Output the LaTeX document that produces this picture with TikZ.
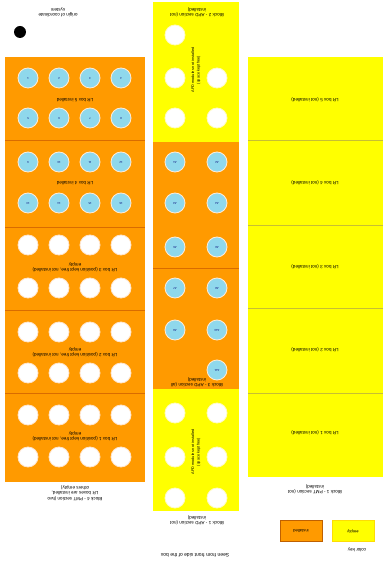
\documentclass[tikz,border=0pt]{standalone}
\usepackage{fontspec}
\setmainfont{Liberation Sans}
\definecolor{boxorange}{HTML}{FF9A00}
\definecolor{boxyellow}{HTML}{FFFF00}
\definecolor{apdblue}{HTML}{8FD8EC}

\tikzset{
  flip/.style={rotate=180, font=\fontsize{4.6}{5.4}\selectfont, align=center, inner sep=0pt},
  side/.style={rotate=90, font=\fontsize{3.8}{5.5}\selectfont, align=center, inner sep=0pt},
  hole/.style={circle, fill=white, draw=yellow!25!white, line width=0.8pt, minimum size=20pt, inner sep=0pt},
  apd/.style={hole, fill=apdblue, draw=orange!15!white, rotate=180, text=blue!45!black, font=\fontsize{2.8}{3}\selectfont},
  split/.style={line width=0.3pt},
  keybox/.style={minimum width=42pt, minimum height=21pt, rotate=180, font=\fontsize{4.2}{5}\selectfont, inner sep=0pt}
}

\begin{document}
\begin{tikzpicture}[x=1pt, y=-1pt]
\useasboundingbox (0,0) rectangle (385,561);

% origin
\fill (20,32) circle (6);
\node[flip] (origin) at (58,12) {origin of coordinate\\system};

% left PMT block
\fill[boxorange] (5,57) rectangle (145,482);
\foreach \y in {140,227,310,393}
  \draw[split, orange!85!black] (5,\y) -- (145,\y);
\foreach \y [count=\r] in {78,118,162,203}
  \foreach \x [count=\c] in {28,59,90,121}
    \node[apd] (l\r\c) at (\x,\y) {\pgfmathparse{int(4*(\r-1)+\c)}\pgfmathresult};
\foreach \y [count=\r] in {245,288,332,373,415,457}
  \foreach \x [count=\c] in {28,59,90,121}
    \node[hole, draw=orange!20!white] (w\r\c) at (\x,\y) {};
\node[flip] (lrfive) at (75,100) {LR box 5 installed};
\node[flip] (lrfour) at (75,183) {LR box 4 installed};
\node[flip] (lrthree) at (75,267) {LR box 3 (position kept free, not installed)\\empty};
\node[flip] (lrtwo) at (75,352) {LR box 2 (position kept free, not installed)\\empty};
\node[flip] (lrone) at (75,436) {LR box 1 (position kept free, not installed)\\empty};
\node[flip] (blockfour) at (75,493) {Block 4 - PMT section (two\\LR boxes are installed,\\others empty)};

% middle APD column
\fill[boxyellow] (153,2) rectangle (239,142);
\fill[boxorange] (153,142) rectangle (239,389);
\fill[boxyellow] (153,389) rectangle (239,511);
\draw[split, orange!85!black] (153,268) -- (239,268);
\foreach \x/\y [count=\i] in {175/35,175/78,217/78,175/118,217/118}
  \node[hole] (t\i) at (\x,\y) {};
\foreach \x/\y [count=\i] in {175/162,217/162,175/203,217/203,175/247,217/247,
                              175/288,217/288,175/330,217/330,217/370}
  \node[apd] (m\i) at (\x,\y) {A\i};
\foreach \x/\y [count=\i] in {175/413,217/413,175/457,217/457,175/498,217/498}
  \node[hole] (b\i) at (\x,\y) {};
\node[side] (apdtop) at (196,70) {APD modules not installed\\(space kept free)};
\node[side] (apdbot) at (196,452) {APD modules not installed\\(space kept free)};
\node[flip] (blocktwo) at (197,12) {Block 2 - APD section (not\\installed)};
\node[flip] (blockthree) at (197,382) {Block 3 - APD section (all\\installed)};
\node[flip] (blockone) at (197,520) {Block 1 - APD section (not\\installed)};

% right PMT block
\fill[boxyellow] (248,57) rectangle (383,477);
\foreach \y in {140,225,308,393}
  \draw[split, yellow!75!black] (248,\y) -- (383,\y);
\foreach \y/\n in {100/5,183/4,267/3,350/2,433/1}
  \node[flip] (pmt\n) at (315,\y) {LR box \n{} (not installed)};
\node[flip] (blockonepmt) at (315,489) {Block 1 - PMT section (not\\installed)};

% colour key
\node[keybox, fill=boxorange, draw=orange!75!black] (keyorange) at (301,531) {installed};
\node[keybox, fill=boxyellow, draw=yellow!80!orange] (keyyellow) at (353,531) {empty};
\node[flip] (keylabel) at (357,550) {color key};

\node[flip, font=\fontsize{5}{6}\selectfont] (title) at (195,555) {Seen from front side of the box};
\end{tikzpicture}
\end{document}
